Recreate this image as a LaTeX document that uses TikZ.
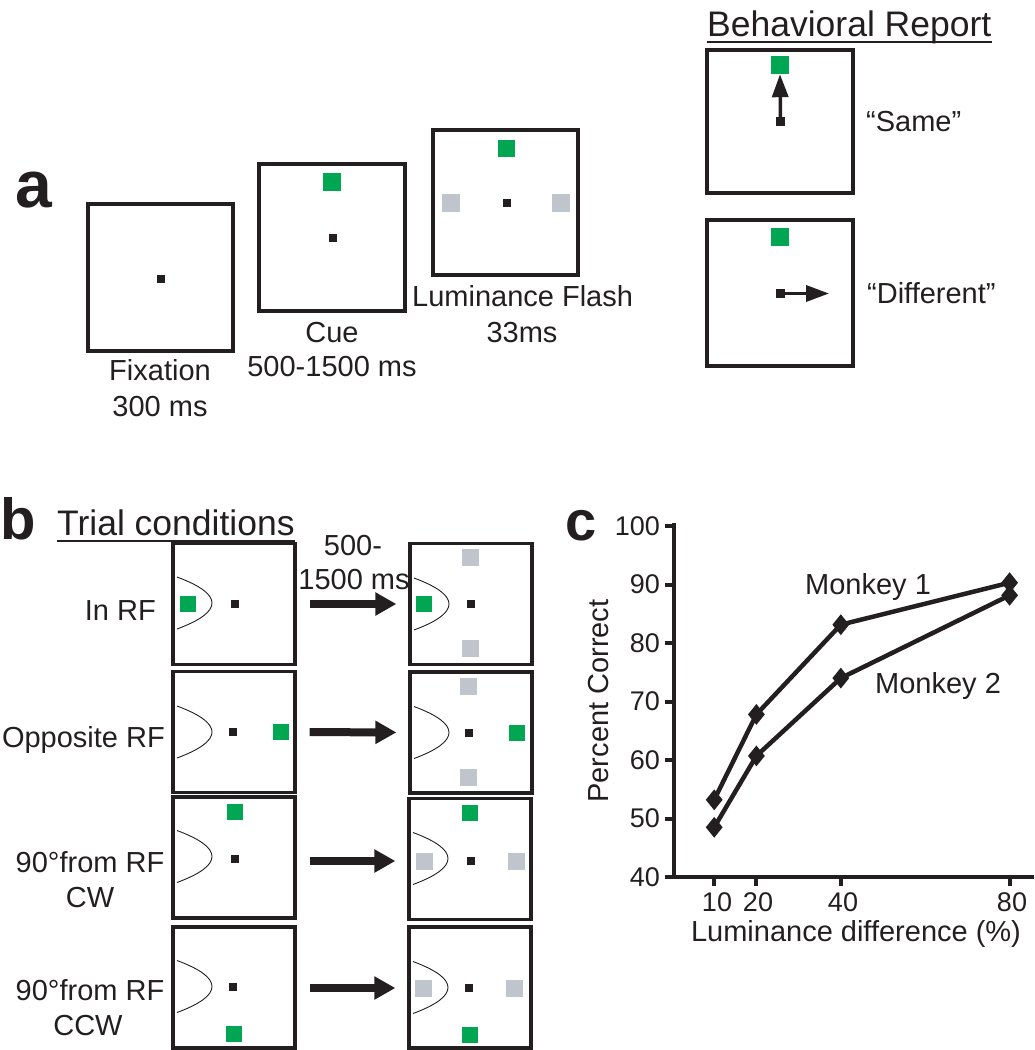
\documentclass[tikz,border=0pt]{standalone}
\usepackage{fontspec}
\setmainfont{Liberation Sans}
\usetikzlibrary{arrows.meta,shapes.geometric}
\definecolor{stimgreen}{RGB}{0,166,81}
\definecolor{stimgray}{RGB}{192,197,205}
\definecolor{ink}{RGB}{35,31,32}
\newcommand{\RFcurve}[2]{\draw[rfline] (#1+4,#2-26) .. controls (#1+50.7,#2-8.7) and (#1+50.7,#2+8.7) .. (#1+4,#2+26);}
\begin{document}
\begin{tikzpicture}[x=1pt,y=-1pt,
  frame/.style={draw=ink, line width=3.2pt, inner sep=0pt},
  fixpt/.style={fill=ink, inner sep=0pt, minimum size=8pt},
  gsq/.style={fill=stimgreen, inner sep=0pt, minimum size=#1},
  gsq/.default=16pt,
  ysq/.style={fill=stimgray, inner sep=0pt, minimum size=#1},
  ysq/.default=17pt,
  tailsq/.style={fill=ink, inner sep=0pt, minimum size=9pt},
  rfline/.style={draw=ink, line width=0.9pt},
  bigarrow/.style={draw=ink, line width=8pt, -{Triangle[length=21pt,width=22pt]}},
  reparrow/.style={draw=ink, line width=3.5pt, -{Triangle[length=23pt,width=16pt]}},
  dataline/.style={draw=ink, line width=4.5pt, line join=round},
  dmark/.style={diamond, fill=ink, inner sep=0pt, minimum width=17pt, minimum height=21pt},
  axisline/.style={draw=ink, line width=4pt},
  lab/.style={font=\fontsize{29}{34}\selectfont, inner sep=0pt, text=ink},
  ticklab/.style={font=\fontsize{27}{32}\selectfont, inner sep=0pt, text=ink},
  headlab/.style={font=\fontsize{35.5}{40}\selectfont, inner sep=0pt, text=ink},
  uline/.style={draw=ink, line width=2pt},
  letter/.style={font=\fontsize{#1}{#1}\selectfont\bfseries, inner sep=0pt, text=ink, anchor=base west}
]
\useasboundingbox (0,0) rectangle (1034,1050);

% ---------------- panel a ----------------
\node[letter=66] (pa) at (15,207) {a};

% Fixation
\node[frame, minimum width=145pt, minimum height=147pt] (fixbox) at (160.5,277.5) {};
\node[fixpt] (fixdot) at (161,279) {};
\node[lab, anchor=base] (fixl1) at (160,380) {Fixation};
\node[lab, anchor=base] (fixl2) at (160,416) {300 ms};

% Cue
\node[frame, minimum width=146pt, minimum height=147pt] (cuebox) at (332,237.5) {};
\node[gsq=18pt] (cuegreen) at (332,182) {};
\node[fixpt] (cuedot) at (333,238) {};
\node[lab, anchor=base] (cuel1) at (332,342) {Cue};
\node[lab, anchor=base] (cuel2) at (332,376) {500-1500 ms};

% Luminance flash
\node[frame, minimum width=145pt, minimum height=145pt] (lumbox) at (505.5,202.5) {};
\node[gsq=17pt] (lumgreen) at (506,148) {};
\node[ysq=18pt] (lumgl) at (451,203) {};
\node[ysq=18pt] (lumgr) at (561,203) {};
\node[fixpt] (lumdot) at (507,203) {};
\node[lab, anchor=base west] (luml1) at (412,306) {Luminance Flash};
\node[lab, anchor=base] (luml2) at (522,342) {33ms};

% Behavioral report
\node[headlab, anchor=base west] (brhead) at (707,36) {Behavioral Report};
\draw[uline] ([yshift=-6pt]brhead.base west) -- ([yshift=-6pt]brhead.base east);

\node[frame, minimum width=146pt, minimum height=143pt] (samebox) at (780,121.5) {};
\node[gsq=18pt] (samegreen) at (780,65) {};
\node[tailsq] (sametail) at (780.5,121.5) {};
\draw[reparrow] (sametail.center) -- (samegreen.south);
\node[lab, anchor=base west] (samel) at (866,131) {“Same”};

\node[frame, minimum width=146pt, minimum height=146pt] (diffbox) at (780,293) {};
\node[gsq=18pt] (diffgreen) at (780,237) {};
\node[tailsq] (difftail) at (780.5,293.5) {};
\coordinate (difftip) at (829,293.5);
\draw[reparrow] (difftail.center) -- (difftip);
\node[lab, anchor=base west] (diffl) at (867,303) {“Different”};

% ---------------- panel b ----------------
\node[letter=58] (pb) at (0,539) {b};
\node[headlab, anchor=base west] (tchead) at (57,535) {Trial conditions};
\draw[uline] ([yshift=-6pt]tchead.base west) -- ([yshift=-6pt]tchead.base east);

% row 1: In RF
\node[frame, minimum width=122pt, minimum height=121pt] (L1) at (234,604) {};
\node[frame, minimum width=122pt, minimum height=121pt] (R1) at (471,604) {};
\RFcurve{173}{603}
\RFcurve{410}{604}
\node[gsq] (L1g) at (188,604) {};
\node[fixpt] (L1d) at (235,604) {};
\node[ysq] (R1t) at (470,557) {};
\node[ysq] (R1b) at (470,648) {};
\node[gsq] (R1g) at (424,604) {};
\node[fixpt] (R1d) at (471,604) {};
\node[lab, anchor=base east] (L1lab) at (156,620) {In RF};
\node[lab, anchor=base] (dl1) at (353,555) {500-};
\node[lab, anchor=base] (dl2) at (354,589) {1500 ms};
\draw[bigarrow, shorten <=13pt, shorten >=12pt] (L1.east) -- (R1.west);

% row 2: Opposite RF
\node[frame, minimum width=122pt, minimum height=121pt] (L2) at (234,732) {};
\node[frame, minimum width=122pt, minimum height=121pt] (R2) at (471,732.5) {};
\RFcurve{173}{732}
\RFcurve{410}{732.5}
\node[fixpt] (L2d) at (233,732) {};
\node[gsq] (L2g) at (281,732) {};
\node[ysq] (R2t) at (468,686) {};
\node[ysq] (R2b) at (468,777) {};
\node[gsq] (R2g) at (517,732.5) {};
\node[fixpt] (R2d) at (469,732.5) {};
\node[lab, anchor=base east] (L2lab) at (165,747) {Opposite RF};
\draw[bigarrow, shorten <=13pt, shorten >=12pt] (L2.east) -- (R2.west);

% row 3: 90 from RF CW
\node[frame, minimum width=122pt, minimum height=121pt] (L3) at (234,857.5) {};
\node[frame, minimum width=122pt, minimum height=121pt] (R3) at (470,859) {};
\RFcurve{173}{856.5}
\RFcurve{409}{858.5}
\node[gsq] (L3g) at (234.5,812) {};
\node[fixpt] (L3d) at (235,859) {};
\node[gsq] (R3g) at (470,813) {};
\node[ysq] (R3l) at (424,861) {};
\node[ysq] (R3r) at (516,861) {};
\node[fixpt] (R3d) at (471,861) {};
\node[lab, anchor=base] (L3lab1) at (90,872) {90°from RF};
\node[lab, anchor=base] (L3lab2) at (90,907) {CW};
\draw[bigarrow, shorten <=13pt, shorten >=12pt] (L3.east |- R3d) -- (R3.west |- R3d);

% row 4: 90 from RF CCW
\node[frame, minimum width=122pt, minimum height=121pt] (L4) at (234,987.5) {};
\node[frame, minimum width=122pt, minimum height=121pt] (R4) at (470,987.5) {};
\RFcurve{173}{986.5}
\RFcurve{409}{987.5}
\node[fixpt] (L4d) at (233,987) {};
\node[gsq] (L4g) at (234,1034) {};
\node[ysq] (R4l) at (423,988) {};
\node[ysq] (R4r) at (514,988) {};
\node[gsq] (R4g) at (470,1035) {};
\node[fixpt] (R4d) at (469,988) {};
\node[lab, anchor=base] (L4lab1) at (90,1000) {90°from RF};
\node[lab, anchor=base] (L4lab2) at (88,1035) {CCW};
\draw[bigarrow, shorten <=13pt, shorten >=12pt] (L4.east |- R4d) -- (R4.west |- R4d);

% ---------------- panel c ----------------
\node[letter=56] (pc) at (565,540) {c};
\coordinate (axtop) at (674,523);
\coordinate (axorig) at (674,877);
\coordinate (axright) at (1034,877);
\draw[axisline] (axtop) -- (axorig) -- (axright);
\foreach \v in {40,50,...,100} {
  \pgfmathsetmacro\yy{877-5.85*(\v-40)}
  \draw[axisline] (665,\yy) -- (674,\yy);
  \node[ticklab, anchor=east] (yt\v) at (660,\yy) {\v};
}
\foreach \u/\lx in {10/717,20/758,40/843,80/1012} {
  \pgfmathsetmacro\xx{672+4.22*\u}
  \draw[axisline] (\xx,877) -- (\xx,886);
  \node[ticklab, anchor=base] (xt\u) at (\lx,911) {\u};
}
\node[lab, anchor=base] (xlab) at (856,941) {Luminance difference (\%)};
\node[lab, anchor=base, rotate=90] (ylab) at (608,701) {Percent Correct};

% data
\node[dmark] (m1a) at (714.2,799.8) {};
\node[dmark] (m1b) at (756.4,714.4) {};
\node[dmark] (m1c) at (840.8,624.7) {};
\node[dmark] (m1d) at (1009.6,582.7) {};
\node[dmark] (m2a) at (714.2,827.3) {};
\node[dmark] (m2b) at (756.4,755.9) {};
\node[dmark] (m2c) at (840.8,678.1) {};
\node[dmark] (m2d) at (1009.6,595.3) {};
\draw[dataline] (m1a.center) -- (m1b.center) -- (m1c.center) -- (m1d.center);
\draw[dataline] (m2a.center) -- (m2b.center) -- (m2c.center) -- (m2d.center);
\node[lab, anchor=base west] (mk1) at (805,594) {Monkey 1};
\node[lab, anchor=base west] (mk2) at (875,693) {Monkey 2};
\end{tikzpicture}
\end{document}
